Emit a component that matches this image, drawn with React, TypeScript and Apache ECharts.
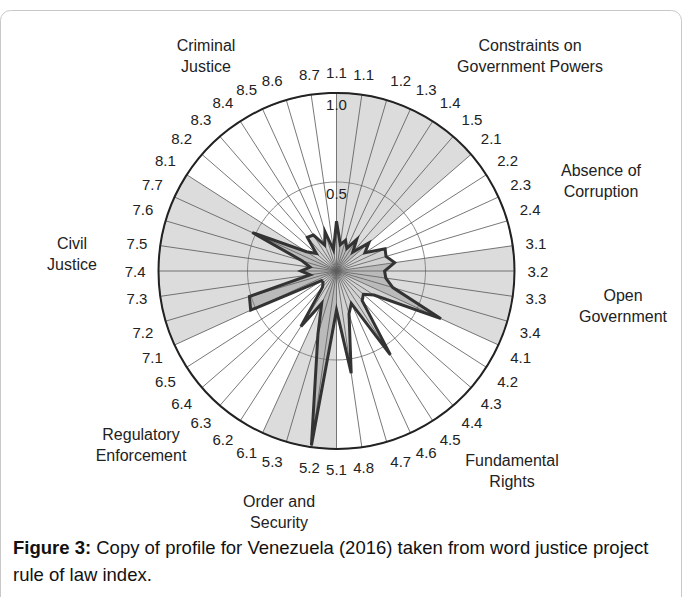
import React, { useEffect, useRef } from 'react';
import * as echarts from 'echarts';

// Sub-factor labels, clockwise from the top (as printed in the figure)
const subFactorLabels = [
  '1.1', '1.1', '1.2', '1.3', '1.4', '1.5',
  '2.1', '2.2', '2.3', '2.4',
  '3.1', '3.2', '3.3', '3.4',
  '4.1', '4.2', '4.3', '4.4', '4.5', '4.6', '4.7', '4.8',
  '5.1', '5.2', '5.3',
  '6.1', '6.2', '6.3', '6.4', '6.5',
  '7.1', '7.2', '7.3', '7.4', '7.5', '7.6', '7.7',
  '8.1', '8.2', '8.3', '8.4', '8.5', '8.6', '8.7',
];

// Venezuela 2016 scores (0..1), same order as labels
const scores = [
  0.28, 0.15, 0.18, 0.14, 0.21, 0.14,
  0.24, 0.19, 0.30, 0.29,
  0.33, 0.27, 0.28, 0.33,
  0.645, 0.25, 0.20, 0.22, 0.56, 0.20, 0.25, 0.58,
  0.22, 0.99, 0.37,
  0.20, 0.37, 0.12, 0.10, 0.10,
  0.53, 0.51, 0.15, 0.20, 0.15, 0.20, 0.52,
  0.20, 0.15, 0.25, 0.24, 0.16, 0.23, 0.12,
];

const shadedFactors = ['1', '3', '5', '7'];
const radiusTicks = [0, 0.5, 1.0];

const factorNames = [
  'Criminal\nJustice',
  'Constraints on\nGovernment Powers',
  'Absence of\nCorruption',
  'Open\nGovernment',
  'Fundamental\nRights',
  'Order and\nSecurity',
  'Regulatory\nEnforcement',
  'Civil\nJustice',
];

const captionBold = 'Figure 3:';
const captionText = ' Copy of profile for Venezuela (2016) taken from word justice project\nrule of law index.';

export default function App() {
  const ref = useRef<HTMLDivElement>(null);

  useEffect(() => {
    document.body.style.margin = '0';
    if (!ref.current) return;
    const chart = echarts.init(ref.current, undefined, { renderer: 'svg' });

    const n = subFactorLabels.length;
    // factor groups (start..end index on the angle axis)
    const groups: { key: string; start: number; end: number }[] = [];
    subFactorLabels.forEach((l, i) => {
      const key = l.split('.')[0];
      const last = groups[groups.length - 1];
      if (!last || last.key !== key) groups.push({ key, start: i, end: i + 1 });
      else last.end = i + 1;
    });
    const shaded = groups.filter((g) => shadedFactors.includes(g.key)).map((g) => [g.start, g.end]);

    const lineData = scores.map((v, i) => [v, i]);
    lineData.push([scores[0], n]);

    const font = '"Liberation Sans Narrow", "Liberation Sans", Arial, sans-serif';
    const nameFont = '"Liberation Sans", Arial, sans-serif';

    const namePos: [number, number][] = [
      [206, 55.5], [530, 55.5], [601, 181], [623, 306], [512, 471], [279, 512], [141, 445], [72, 254],
    ];

    chart.setOption({
      animation: false,
      polar: { center: [336.5, 271], radius: 178 },
      angleAxis: {
        type: 'value',
        min: 0,
        max: n,
        interval: 1,
        startAngle: 90,
        clockwise: true,
        z: 3,
        axisLine: { show: true, lineStyle: { color: '#222', width: 2 } },
        axisTick: { show: false },
        splitLine: { show: true, lineStyle: { color: '#555', width: 0.8 } },
        axisLabel: {
          show: true,
          margin: 13,
          color: '#222',
          fontSize: 15,
          fontFamily: font,
          formatter: (v: number) => subFactorLabels[Math.round(v) % n] ?? '',
        },
      },
      radiusAxis: {
        type: 'value',
        min: radiusTicks[0],
        max: radiusTicks[radiusTicks.length - 1],
        interval: 0.5,
        z: 3,
        axisLine: { show: false },
        axisTick: { show: false },
        splitLine: { show: true, lineStyle: { color: '#8a8a8a', width: 1 } },
        axisLabel: {
          show: true,
          margin: 0,
          align: 'center',
          verticalAlign: 'top',
          padding: [4, 0, 0, 0],
          color: '#222',
          fontSize: 15,
          fontFamily: font,
          formatter: (v: number) => (v === 0 ? '' : v.toFixed(1)),
        },
      },
      title: {
        left: 13,
        top: 534,
        padding: 0,
        text: '{b|' + captionBold + '}' + captionText,
        textStyle: {
          fontSize: 18.5,
          fontWeight: 'normal',
          color: '#111',
          fontFamily: nameFont,
          lineHeight: 27,
          rich: { b: { fontWeight: 'bold', fontSize: 18.5, fontFamily: nameFont, color: '#111', lineHeight: 27 } },
        },
      },
      graphic: [
        {
          type: 'rect',
          shape: { x: 0.5, y: 10.5, width: 681, height: 620, r: 10 },
          style: { fill: 'none', stroke: '#c8c8c8', lineWidth: 1 },
          z: 0,
        },
        ...factorNames.map((t, i) => ({
          type: 'text',
          x: namePos[i][0],
          y: namePos[i][1],
          style: {
            text: t,
            fill: '#222',
            font: '16px ' + nameFont,
            align: 'center',
            verticalAlign: 'middle',
            lineHeight: 21,
          },
        })),
      ],
      series: [
        {
          type: 'custom',
          coordinateSystem: 'polar',
          z: 1,
          silent: true,
          data: shaded,
          renderItem: (params: any, api: any) => {
            const s = api.value(0);
            const e = api.value(1);
            const pts = [api.coord([0, s])];
            const steps = Math.max(4, Math.ceil((e - s) * 6));
            for (let k = 0; k <= steps; k++) pts.push(api.coord([1, s + ((e - s) * k) / steps]));
            return { type: 'polygon', shape: { points: pts }, style: { fill: '#dcdcdc' } };
          },
        },
        {
          type: 'line',
          coordinateSystem: 'polar',
          z: 4,
          data: lineData,
          symbol: 'none',
          lineStyle: { color: '#333', width: 3, join: 'miter', miterLimit: 6 },
          areaStyle: { color: 'rgba(110,110,110,0.45)' },
        },
      ],
    });

    return () => chart.dispose();
  }, []);

  return <div ref={ref} style={{ width: 683, height: 597 }} />;
}
